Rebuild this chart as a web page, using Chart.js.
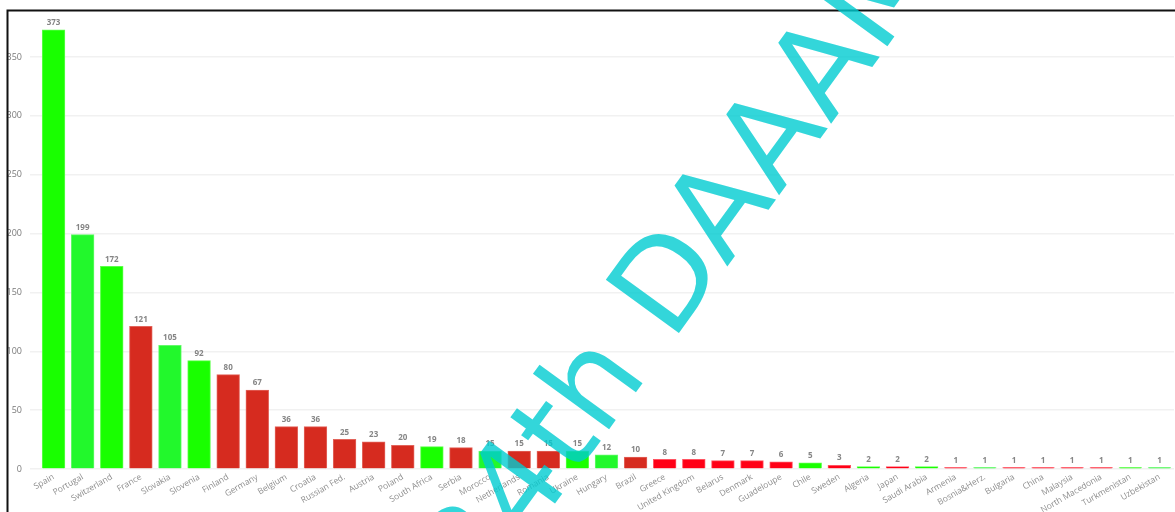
<!DOCTYPE html>
<html>
<head>
<meta charset="utf-8">
<script src="https://cdn.jsdelivr.net/npm/chart.js@4.4.0/dist/chart.umd.min.js"></script>
<style>
  html, body { margin: 0; padding: 0; background: #ffffff; overflow: hidden; }
  canvas { display: block; }
</style>
</head>
<body>
<canvas id="chart" width="1175" height="512"></canvas>
<script>
// Participants per country
const countries = [
  'Spain', 'Portugal', 'Switzerland', 'France', 'Slovakia', 'Slovenia', 'Finland', 'Germany',
  'Belgium', 'Croatia', 'Russian Fed.', 'Austria', 'Poland', 'South Africa', 'Serbia', 'Morocco',
  'Netherlands', 'Romania', 'Ukraine', 'Hungary', 'Brazil', 'Greece', 'United Kingdom', 'Belarus',
  'Denmark', 'Guadeloupe', 'Chile', 'Sweden', 'Algeria', 'Japan', 'Saudi Arabia', 'Armenia',
  'Bosnia&Herz.', 'Bulgaria', 'China', 'Malaysia', 'North Macedonia', 'Turkmenistan', 'Uzbekistan'
];
const participants = [
  373, 199, 172, 121, 105, 92, 80, 67,
  36, 36, 25, 23, 20, 19, 18, 15,
  15, 15, 15, 12, 10, 8, 8, 7,
  7, 6, 5, 3, 2, 2, 2, 1,
  1, 1, 1, 1, 1, 1, 1
];
// Group code of each country: G / g = green groups, R = dark red group, r = bright red group
const groups = [
  'G', 'g', 'G', 'R', 'g', 'G', 'R', 'R',
  'R', 'R', 'R', 'R', 'R', 'G', 'R', 'g',
  'R', 'R', 'G', 'g', 'R', 'r', 'r', 'r',
  'r', 'r', 'G', 'r', 'G', 'r', 'G', 'r',
  'g', 'r', 'r', 'r', 'r', 'G', 'g'
];
const yTicks = [0, 50, 100, 150, 200, 250, 300, 350];
const watermarkText = '34th DAAAM';

const groupColors = { G: '#19ff00', g: '#22f82c', R: '#d62b1f', r: '#ff0016' };
const groupEdges  = { G: '#5cff4a', g: '#62fa69', R: '#e2645b', r: '#ff5462' };
const FONT = '"Open Sans", "Noto Sans", sans-serif';

// Value above every bar
const valueLabels = {
  id: 'valueLabels',
  afterDatasetsDraw(chart) {
    const ctx = chart.ctx;
    const meta = chart.getDatasetMeta(0);
    ctx.save();
    ctx.font = 'bold 8px ' + FONT;
    ctx.fillStyle = '#858585';
    ctx.textAlign = 'center';
    ctx.textBaseline = 'alphabetic';
    meta.data.forEach((bar, i) => {
      ctx.fillText(String(chart.data.datasets[0].data[i]), bar.x, bar.y - 5);
    });
    ctx.restore();
  }
};

// Dark frame and the rotated event watermark
const frameAndMark = {
  id: 'frameAndMark',
  afterDraw(chart) {
    const ctx = chart.ctx;
    const W = chart.width, H = chart.height;
    ctx.save();
    ctx.strokeStyle = '#111111';
    ctx.lineWidth = 2;
    ctx.beginPath();
    ctx.moveTo(7.5, H + 2);
    ctx.lineTo(7.5, 10.5);
    ctx.lineTo(W + 2, 10.5);
    ctx.stroke();
    ctx.restore();

    const theta = 54 * Math.PI / 180;
    const size = 124;
    ctx.save();
    ctx.font = size + 'px "DejaVu Sans", sans-serif';
    const pre = ctx.measureText('34th ').width + 0.098 * size;
    const ux = Math.cos(theta), uy = -Math.sin(theta);
    const ox = 679 - pre * ux, oy = 333 - pre * uy;
    ctx.translate(ox, oy);
    ctx.rotate(-theta);
    ctx.fillStyle = 'rgba(0, 204, 209, 0.8)';
    ctx.textAlign = 'left';
    ctx.textBaseline = 'alphabetic';
    ctx.fillText(watermarkText, 0, 0);
    ctx.restore();
  }
};

new Chart(document.getElementById('chart'), {
  type: 'bar',
  data: {
    labels: countries,
    datasets: [{
      data: participants,
      backgroundColor: groups.map(g => groupColors[g]),
      borderColor: groups.map(g => groupEdges[g]),
      borderWidth: 1,
      borderSkipped: 'start',
      inflateAmount: 0.5,
      barPercentage: 0.77,
      categoryPercentage: 1.0
    }]
  },
  options: {
    responsive: false,
    devicePixelRatio: 1,
    animation: false,
    layout: { padding: { top: 10, left: 0, right: 1, bottom: 0 } },
    plugins: { legend: { display: false }, tooltip: { enabled: false } },
    scales: {
      x: {
        grid: { display: false, drawTicks: false },
        border: { display: false },
        ticks: {
          autoSkip: false,
          minRotation: 30,
          maxRotation: 30,
          padding: 3,
          color: '#8e8e8e',
          font: { family: FONT, size: 8.5 }
        },
        afterFit(s) { s.height = 43; s.paddingLeft = 0; s.paddingRight = 0; }
      },
      y: {
        min: 0,
        max: 390,
        grid: { color: '#f1f1f1', lineWidth: 1.5, tickLength: 9, tickColor: '#f1f1f1' },
        border: { display: false },
        ticks: {
          padding: 8,
          color: '#7a7a7a',
          font: { family: FONT, size: 9 }
        },
        afterBuildTicks(s) { s.ticks = yTicks.map(v => ({ value: v })); },
        afterFit(s) { s.width = 39; s.paddingTop = 0; s.paddingBottom = 0; }
      }
    }
  },
  plugins: [valueLabels, frameAndMark]
});
</script>
</body>
</html>
